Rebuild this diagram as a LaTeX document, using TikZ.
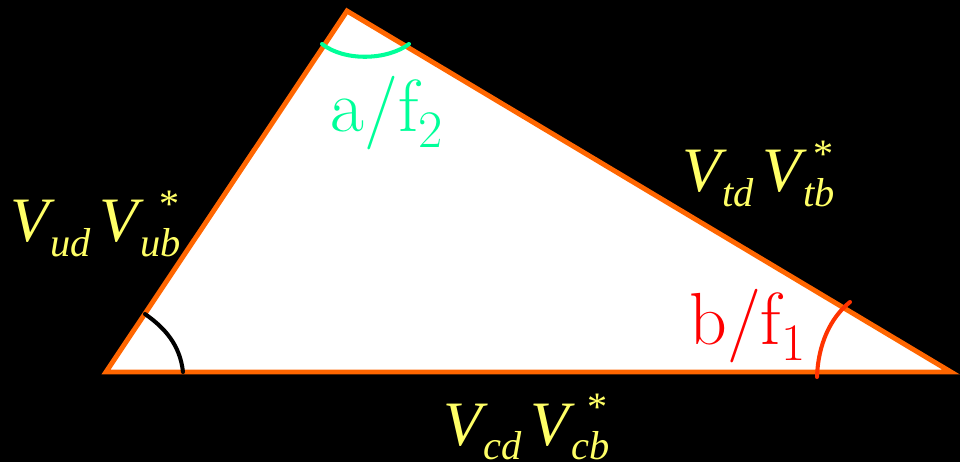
\documentclass[tikz,border=0pt]{standalone}
\usepackage{fontspec}
\newfontfamily\ckmfont{Liberation Serif}
\usetikzlibrary{calc}

\definecolor{edgeorange}{RGB}{255,102,0}
\definecolor{alphagreen}{RGB}{0,255,153}
\definecolor{betared}{RGB}{255,0,0}
\definecolor{betaarc}{RGB}{255,51,0}
\definecolor{ckmyellow}{RGB}{255,255,102}

% one CKM element, V with its two-letter subscript
\newcommand{\ckmel}[1]{V\kern1pt\raisebox{-8.5pt}{\fontsize{23}{26}\selectfont #1}}
\newcommand{\ckmconj}{\llap{\raisebox{14pt}{\fontsize{23}{26}\selectfont *}\kern2pt}}
\newcommand{\angsub}[1]{\raisebox{-9pt}{\fontsize{30}{34}\selectfont #1}}

\begin{document}
\begin{tikzpicture}[
    x=0.02cm, y=-0.02cm,
    side/.style={draw=edgeorange, line width=2.8pt, fill=white, line join=miter},
    anglearc/.style={line width=2.3pt, line cap=round},
    ckmlabel/.style={anchor=base west, inner sep=0pt, text=ckmyellow, font=\ckmfont\itshape\fontsize{36}{40}\selectfont},
    anglabel/.style={anchor=base west, inner sep=0pt, font=\fontsize{42}{48}\selectfont}
]
    % background
    \fill[black] (0,0) rectangle (960,462);
    \useasboundingbox (0,0) rectangle (960,462);

    % --- the triangle ---
    \coordinate (A) at (106,372);
    \coordinate (B) at (347,11);
    \coordinate (C) at (951,372);
    \draw[side] (A) -- (B) -- (C) -- cycle;

    % --- angles ---
    \draw[anglearc, black] (183,372) .. controls (180,345) and (165,328) .. (145,314);
    \draw[anglearc, alphagreen] (322,44) .. controls (345,62) and (388,60) .. (409,44);
    \draw[anglearc, betaarc] (817,377) .. controls (818,345) and (830,318) .. (850,302);

    \node[anglabel, text=alphagreen] (alpha) at (330,132) {a/f\angsub{2}};
    \node[anglabel, text=betared] (beta) at (689,345) {b/f\angsub{1}};

    % --- sides ---
    \node[ckmlabel] (ub) at (10,242) {\ckmel{ud}\kern5pt\ckmel{ub}\ckmconj};
    \node[ckmlabel] (tb) at (682,192) {\ckmel{td}\kern5pt\ckmel{tb}\ckmconj};
    \node[ckmlabel] (cb) at (443,445) {\ckmel{cd}\kern5pt\ckmel{cb}\ckmconj};

\end{tikzpicture}
\end{document}
